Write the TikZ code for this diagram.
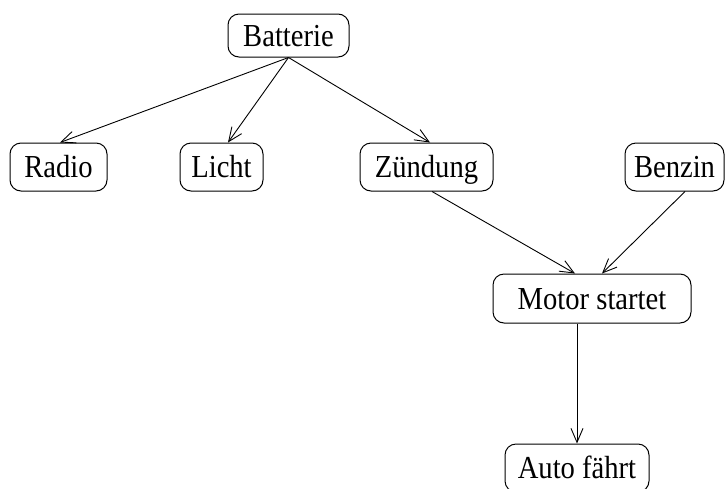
\documentclass[tikz,border=0pt]{standalone}
\usepackage{fontspec}
\usepackage{graphicx}
\setmainfont{Liberation Serif}
\usetikzlibrary{arrows.meta}
\newcommand{\stretchtxt}[1]{\scalebox{1}[1.12]{#1}}
\begin{document}
\begin{tikzpicture}[x=1pt,y=-1pt,
  box/.style={draw, line width=1pt, rounded corners=11pt, inner sep=0pt,
    text height=21pt, text depth=0pt,
    font=\fontsize{28.6}{34}\selectfont},
  conn/.style={line width=0.9pt, -{Straight Barb[length=14pt,width=12pt,line width=0.9pt]}}]
\useasboundingbox (0,0) rectangle (725,488);
\node[box, minimum width=121pt, minimum height=43pt] (bat) at (288.5,35.5) {\stretchtxt{Batterie}};
\node[box, minimum width=97pt, minimum height=48pt] (rad) at (58.5,167) {\stretchtxt{Radio}};
\node[box, minimum width=83pt, minimum height=48pt] (lic) at (221.5,167) {\stretchtxt{Licht}};
\node[box, minimum width=133pt, minimum height=48pt] (zue) at (426.5,167) {\stretchtxt{Zündung}};
\node[box, minimum width=99pt, minimum height=48pt] (ben) at (674.5,167) {\stretchtxt{Benzin}};
\node[box, minimum width=198pt, minimum height=49pt] (mot) at (592,298.5) {\stretchtxt{Motor startet}};
\node[box, minimum width=144pt, minimum height=48pt] (aut) at (577,468) {\stretchtxt{Auto fährt}};
\draw[conn] (bat.south) -- ([xshift=1.5pt]rad.north);
\draw[conn] (bat.south) -- ([xshift=6.5pt]lic.north);
\draw[conn] (bat.south) -- ([xshift=3.5pt]zue.north);
\draw[conn] ([xshift=5.5pt]zue.south) -- ([xshift=-17pt]mot.north);
\draw[conn] ([xshift=10.5pt]ben.south) -- ([xshift=10pt]mot.north);
\draw[conn] ([xshift=-15pt]mot.south) -- (aut.north);
\end{tikzpicture}
\end{document}
